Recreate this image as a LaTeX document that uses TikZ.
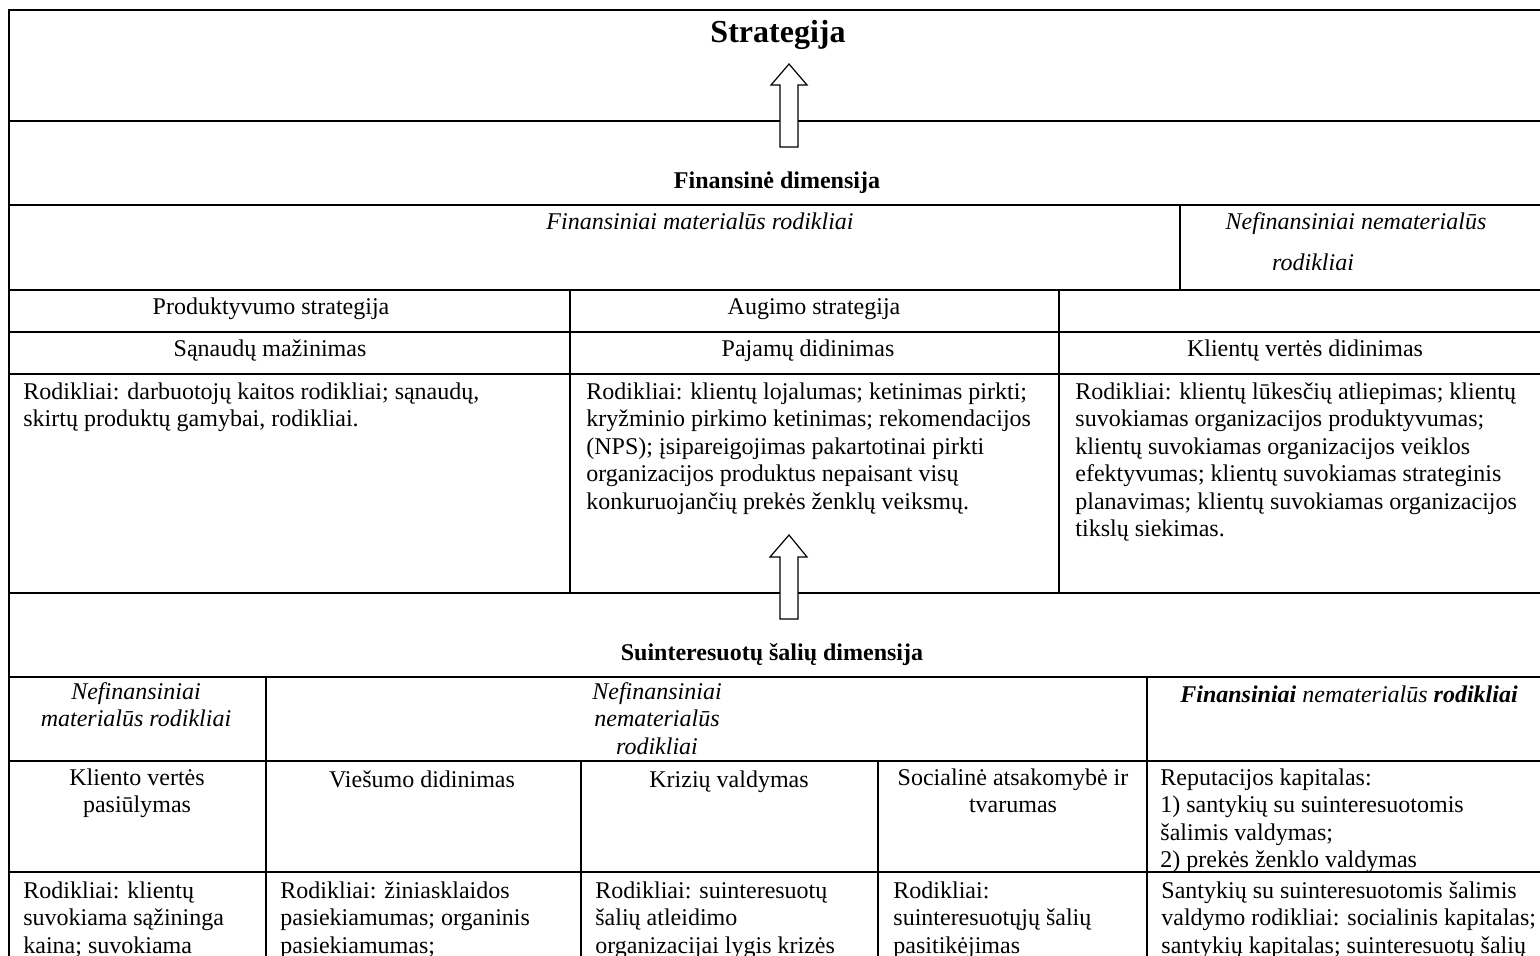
\documentclass[tikz,border=0pt]{standalone}
\usepackage{fontspec}
\setmainfont{Liberation Serif}
\newcommand\cellfont{\fontsize{12}{13.75}\selectfont}
\begin{document}
\begin{tikzpicture}[x=0.5pt,y=-0.5pt,
        rule/.style={line width=1pt},
        sep/.style={line width=0.7pt},
        txt/.style={inner sep=0pt,font=\cellfont},
        head/.style={txt,anchor=base},
        block/.style={txt,anchor=north west,align=left,execute at begin node=\strut},
        cblock/.style={txt,anchor=north,align=center,execute at begin node=\strut},
        uparrow/.style={draw=black,fill=white,line width=0.6pt}]
    \useasboundingbox (0,0) rectangle (1540,956);
    \clip (0,0) rectangle (1540,956);
    \draw[rule] (1550,10) -- (9,10) -- (9,960);
    \foreach \y in {121,205,290,332,374,593,677,761,872}
        \draw[rule] (9,\y) -- (1550,\y);
    \draw[sep] (1180,205) -- (1180,290);
    \draw[sep] (570,290) -- (570,593);
    \draw[sep] (1059,290) -- (1059,593);
    \draw[sep] (266,677) -- (266,960);
    \draw[sep] (1147,677) -- (1147,960);
    \draw[sep] (581,761) -- (581,960);
    \draw[sep] (878,761) -- (878,960);

    \node[head,font=\fontsize{16}{18}\selectfont\bfseries] (strat) at (778,43) {Strategija};
    \draw[uparrow] (780,147) -- (780,85) -- (771,85) -- (789,64) -- (807,85) -- (798,85) -- (798,147) -- cycle;

    \node[head,font=\cellfont\bfseries] (findim) at (777,189) {Finansinė dimensija};
    \node[head,font=\cellfont\itshape] (finmat) at (700,230) {Finansiniai materialūs rodikliai};
    \node[head,font=\cellfont\itshape] (nefnem) at (1356,230) {Nefinansiniai nematerialūs};
    \node[head,font=\cellfont\itshape] (nefnemrod) at (1313,271) {rodikliai};

    \node[head] (prodstr) at (271,315) {Produktyvumo strategija};
    \node[head] (augstr) at (814,315) {Augimo strategija};
    \node[head] (sanaud) at (270,357) {Sąnaudų mažinimas};
    \node[head] (pajam) at (808,357) {Pajamų didinimas};
    \node[head] (klvert) at (1305,357) {Klientų vertės didinimas};

    \node[block] (rodsan) at (23,382) {Rodikliai: darbuotojų kaitos rodikliai; sąnaudų,\\skirtų produktų gamybai, rodikliai.};
    \node[block] (rodpaj) at (586,382) {Rodikliai: klientų lojalumas; ketinimas pirkti;\\kryžminio pirkimo ketinimas; rekomendacijos\\(NPS); įsipareigojimas pakartotinai pirkti\\organizacijos produktus nepaisant visų\\konkuruojančių prekės ženklų veiksmų.};
    \node[block] (rodkl) at (1075,382) {Rodikliai: klientų lūkesčių atliepimas; klientų\\suvokiamas organizacijos produktyvumas;\\klientų suvokiamas organizacijos veiklos\\efektyvumas; klientų suvokiamas strateginis\\planavimas; klientų suvokiamas organizacijos\\tikslų siekimas.};
    \draw[uparrow] (780,619) -- (780,557) -- (770,557) -- (789,535) -- (807,557) -- (798,557) -- (798,619) -- cycle;

    \node[head,font=\cellfont\bfseries] (suindim) at (772,660) {Suinteresuotų šalių dimensija};
    \node[cblock,font=\cellfont\itshape] (nefmat) at (136,682) {Nefinansiniai\\materialūs rodikliai};
    \node[cblock,font=\cellfont\itshape] (nefnem2) at (657,682) {Nefinansiniai\\nematerialūs\\rodikliai};
    \node[head,font=\cellfont\itshape] (finnem) at (1349,702) {\textbf{Finansiniai} nematerialūs \textbf{rodikliai}};

    \node[cblock] (klpas) at (137,768) {Kliento vertės\\pasiūlymas};
    \node[cblock] (viesum) at (422,768) {Viešumo didinimas};
    \node[cblock] (kriz) at (729,768) {Krizių valdymas};
    \node[cblock] (socat) at (1013,768) {Socialinė atsakomybė ir\\tvarumas};
    \node[block] (reput) at (1160,768) {Reputacijos kapitalas:\\1) santykių su suinteresuotomis\\šalimis valdymas;\\2) prekės ženklo valdymas};

    \node[block] (rodkp) at (23,881) {Rodikliai: klientų\\suvokiama sąžininga\\kaina; suvokiama};
    \node[block] (rodvd) at (280,881) {Rodikliai: žiniasklaidos\\pasiekiamumas; organinis\\pasiekiamumas;};
    \node[block] (rodkv) at (595,881) {Rodikliai: suinteresuotų\\šalių atleidimo\\organizacijai lygis krizės};
    \node[block] (rodst) at (893,881) {Rodikliai:\\suinteresuotųjų šalių\\pasitikėjimas};
    \node[block] (rodsv) at (1161,881) {Santykių su suinteresuotomis šalimis\\valdymo rodikliai: socialinis kapitalas;\\santykių kapitalas; suinteresuotų šalių};
\end{tikzpicture}
\end{document}
